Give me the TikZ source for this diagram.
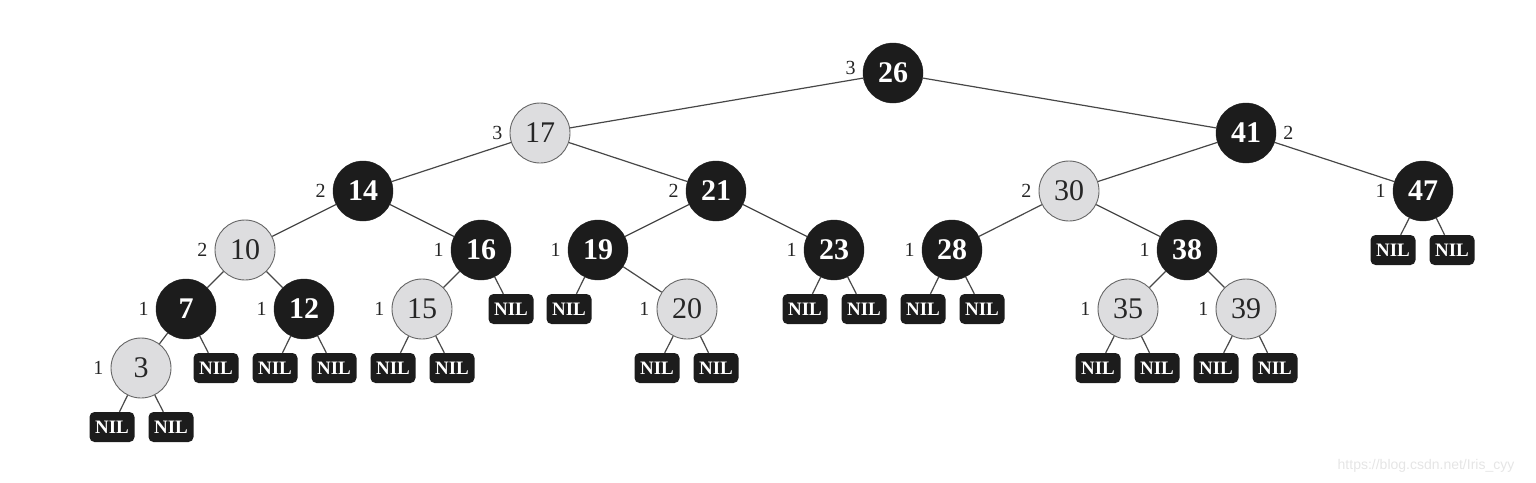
\documentclass[tikz,border=0pt]{standalone}
\usepackage{fontspec}
\setmainfont{Liberation Serif}
\setsansfont{Liberation Sans}
\definecolor{nodeblack}{HTML}{1C1C1C}
\definecolor{nodelight}{HTML}{DDDDDF}
\definecolor{edgecol}{HTML}{474747}
\tikzset{
  rb/.style={circle, minimum size=60pt, inner sep=0pt, fill=nodeblack, draw=nodeblack, text=white,
    font=\fontsize{30}{30}\selectfont\bfseries},
  rl/.style={circle, minimum size=60pt, inner sep=0pt, fill=nodelight, draw=gray!80!black, line width=0.9pt, text=black!85,
    font=\fontsize{30}{30}\selectfont},
  nil/.style={rectangle, rounded corners=5pt, minimum width=45pt, minimum height=30pt, inner sep=0pt, fill=nodeblack, text=white,
    font=\fontsize{19}{19}\selectfont\bfseries},
  lbl/.style={font=\fontsize{20}{20}\selectfont, text=black!85, inner sep=1pt},
  every label/.style={lbl},
  label distance=6pt,
  edge/.style={draw=edgecol, line width=1.2pt}
}
\begin{document}
\begin{tikzpicture}[x=1pt,y=-1pt]
\useasboundingbox (0,0) rectangle (1536,482);
% level 1
\node[rb, label={[yshift=5pt]left:3}] (n26) at (893,73) {26};
% level 2
\node[rl, label={left:3}] (n17) at (540,133) {17};
\node[rb, label={right:2}] (n41) at (1246,133) {41};
% level 3
\node[rb, label={left:2}] (n14) at (363,191) {14};
\node[rb, label={left:2}] (n21) at (716,191) {21};
\node[rl, label={left:2}] (n30) at (1069,191) {30};
\node[rb, label={left:1}] (n47) at (1423,191) {47};
% level 4
\node[rl, label={left:2}] (n10) at (245,250) {10};
\node[rb, label={left:1}] (n16) at (481,250) {16};
\node[rb, label={left:1}] (n19) at (598,250) {19};
\node[rb, label={left:1}] (n23) at (834,250) {23};
\node[rb, label={left:1}] (n28) at (952,250) {28};
\node[rb, label={left:1}] (n38) at (1187,250) {38};
\node[nil] (x47a) at (1393,250) {NIL};
\node[nil] (x47b) at (1452,250) {NIL};
% level 5
\node[rb, label={left:1}] (n7) at (186,309) {7};
\node[rb, label={left:1}] (n12) at (304,309) {12};
\node[rl, label={left:1}] (n15) at (422,309) {15};
\node[nil] (x16) at (511,309) {NIL};
\node[nil] (x19) at (569,309) {NIL};
\node[rl, label={left:1}] (n20) at (687,309) {20};
\node[nil] (x23a) at (805,309) {NIL};
\node[nil] (x23b) at (864,309) {NIL};
\node[nil] (x28a) at (923,309) {NIL};
\node[nil] (x28b) at (982,309) {NIL};
\node[rl, label={left:1}] (n35) at (1128,309) {35};
\node[rl, label={left:1}] (n39) at (1246,309) {39};
% level 6
\node[rl, label={left:1}] (n3) at (141,368) {3};
\node[nil] (x7) at (216,368) {NIL};
\node[nil] (x12a) at (275,368) {NIL};
\node[nil] (x12b) at (334,368) {NIL};
\node[nil] (x15a) at (393,368) {NIL};
\node[nil] (x15b) at (452,368) {NIL};
\node[nil] (x20a) at (657,368) {NIL};
\node[nil] (x20b) at (716,368) {NIL};
\node[nil] (x35a) at (1098,368) {NIL};
\node[nil] (x35b) at (1157,368) {NIL};
\node[nil] (x39a) at (1216,368) {NIL};
\node[nil] (x39b) at (1275,368) {NIL};
% level 7
\node[nil] (x3a) at (112,427) {NIL};
\node[nil] (x3b) at (171,427) {NIL};
% edges
\begin{scope}[on background layer/.style={}]
\foreach \a/\b in {n26/n17,n26/n41,n17/n14,n17/n21,n41/n30,n41/n47,
  n14/n10,n14/n16,n21/n19,n21/n23,n30/n28,n30/n38,n47/x47a,n47/x47b,
  n10/n7,n10/n12,n16/n15,n16/x16,n19/x19,n19/n20,n23/x23a,n23/x23b,n28/x28a,n28/x28b,n38/n35,n38/n39,
  n7/n3,n7/x7,n12/x12a,n12/x12b,n15/x15a,n15/x15b,n20/x20a,n20/x20b,n35/x35a,n35/x35b,n39/x39a,n39/x39b,
  n3/x3a,n3/x3b}
  \draw[edge] (\a) -- (\b);
\end{scope}
\node[font=\sffamily\fontsize{14}{14}\selectfont, text=black!10] (wm) at (1426,466) {https://blog.csdn.net/Iris\_cyy};
\end{tikzpicture}
\end{document}
